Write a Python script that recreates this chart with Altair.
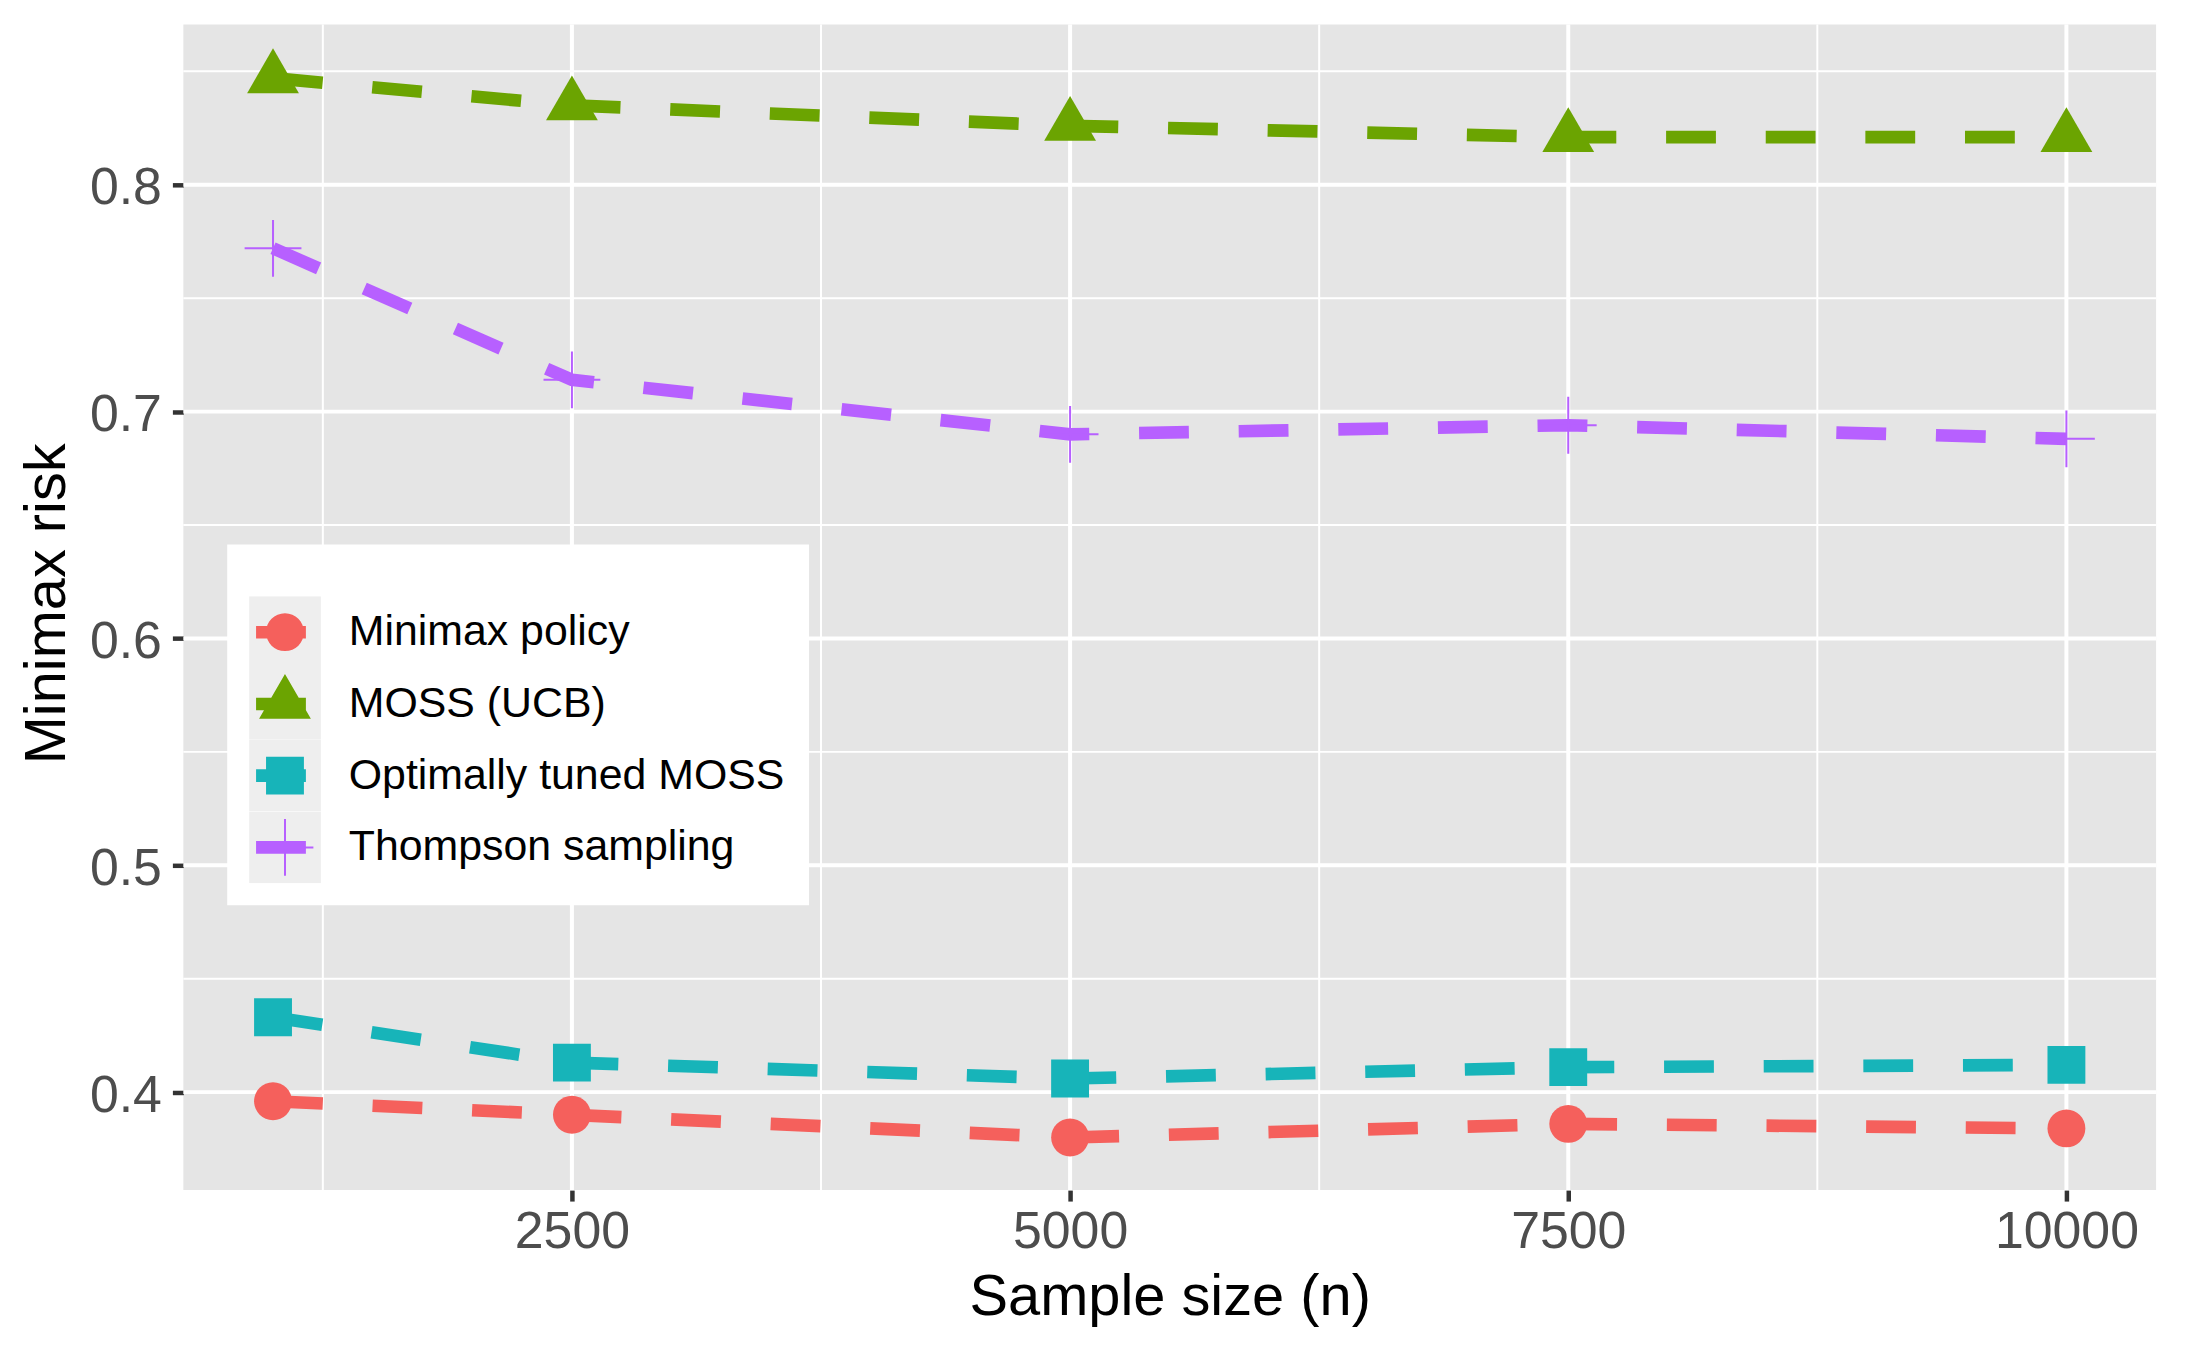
import altair as alt
import pandas as pd

# ---- data ----
n_values = [1000, 2500, 5000, 7500, 10000]
series_names = ["Minimax policy", "MOSS (UCB)", "Optimally tuned MOSS", "Thompson sampling"]
minimax = [0.396, 0.390, 0.380, 0.386, 0.384]
moss = [0.847, 0.835, 0.826, 0.821, 0.821]
opt_moss = [0.433, 0.413, 0.406, 0.411, 0.412]
thompson = [0.772, 0.714, 0.690, 0.694, 0.688]

x_major = [2500, 5000, 7500, 10000]
x_minor = [1250, 3750, 6250, 8750]
y_major = [0.4, 0.5, 0.6, 0.7, 0.8]
y_minor = [0.45, 0.55, 0.65, 0.75, 0.85]

colors = ["#F5605C", "#6BA401", "#17B4B9", "#B760FF"]

# marker outlines (symbol units: 1 unit = 36 px at size 5184)
circle_p = "M-0.528,0A0.528,0.528 0 1,1 0.528,0A0.528,0.528 0 1,1 -0.528,0Z"
triangle_p = "M0,-0.833L0.722,0.417L-0.722,0.417Z"
square_p = "M-0.528,-0.528L0.528,-0.528L0.528,0.528L-0.528,0.528Z"
cross_p = ("M-0.792,-0.028L0.792,-0.028L0.792,0.028L-0.792,0.028Z"
           "M-0.028,-0.792L0.028,-0.792L0.028,0.792L-0.028,0.792Z")
seg_p = "M-0.806,-0.175L0.583,-0.175L0.583,0.175L-0.806,0.175Z"
marker_shapes = [circle_p, triangle_p, square_p, cross_p]
legend_shapes = [seg_p + p for p in marker_shapes]

rows = []
for name, vals in zip(series_names, [minimax, moss, opt_moss, thompson]):
    for n, v in zip(n_values, vals):
        rows.append({"n": n, "risk": v, "series": name})
df = pd.DataFrame(rows)

FONT = "Liberation Sans"
xscale = alt.Scale(domain=[550, 10450], nice=False, zero=False)
yscale = alt.Scale(domain=[0.3568, 0.8707], nice=False, zero=False)

X_AXIS = alt.Axis(values=x_major, format="d", title="Sample size (n)", grid=False, domain=False,
                  tickColor="#333333", tickWidth=4.5, tickSize=11,
                  labelFont=FONT, labelFontSize=52, labelColor="#4D4D4D", labelPadding=6,
                  labelFlush=False, labelOverlap=False,
                  titleFont=FONT, titleFontSize=58, titleColor="black", titleFontWeight="normal",
                  titleBaseline="alphabetic", titleY=125)
Y_AXIS = alt.Axis(values=y_major, format=".1f", title="Minimax risk", grid=False, domain=False,
                  tickColor="#333333", tickWidth=4.5, tickSize=11,
                  labelFont=FONT, labelFontSize=52, labelColor="#4D4D4D", labelPadding=11,
                  labelOffset=3, labelFlush=False, labelOverlap=False,
                  titleFont=FONT, titleFontSize=58, titleColor="black", titleFontWeight="normal",
                  titleAngle=270, titleBaseline="alphabetic", titleX=-119, titleY=581)

COMMON = dict(title=" ", orient="none", legendX=44, legendY=522, padding=22,
              symbolSize=5184, symbolStrokeWidth=0, symbolOpacity=1,
              clipHeight=72, rowPadding=0, labelFont=FONT, labelFontSize=43,
              titleFont=FONT, titleFontSize=20, titlePadding=10)
BG_LEGEND = alt.Legend(fillColor="white", symbolType="square", labelExpr="''",
                       labelOffset=468, **COMMON)
MK_LEGEND = alt.Legend(labelOffset=28, labelColor="black", labelLimit=1000, **COMMON)

X = alt.X("n:Q", scale=xscale, axis=X_AXIS)
Y = alt.Y("risk:Q", scale=yscale, axis=Y_AXIS)

def vgrid(vals, w):
    return alt.Chart(pd.DataFrame({"n": vals})).mark_rule(color="white", strokeWidth=w).encode(x=X)

def hgrid(vals, w):
    return alt.Chart(pd.DataFrame({"risk": vals})).mark_rule(color="white", strokeWidth=w).encode(y=Y)

base = alt.Chart(df)
lines = base.mark_line(strokeWidth=12.7, strokeDash=[50, 50], strokeCap="butt").encode(
    x=X, y=Y,
    color=alt.Color("series:N", scale=alt.Scale(domain=series_names, range=colors), legend=None),
    detail="series:N",
)
points = base.mark_point(filled=True, opacity=1, strokeWidth=0, size=5184).encode(
    x=X, y=Y,
    color=alt.Color("series:N", scale=alt.Scale(domain=series_names, range=colors), legend=None),
    shape=alt.Shape("series:N", scale=alt.Scale(domain=series_names, range=marker_shapes), legend=None),
)
key_bg = base.transform_filter("false").mark_point(filled=True, opacity=1).encode(
    x=X, y=Y,
    fill=alt.Fill("series:N", scale=alt.Scale(domain=series_names, range=["#EEEEEE"] * 4),
                  legend=BG_LEGEND),
)
key_marks = base.transform_filter("false").mark_point(filled=True, opacity=1).encode(
    x=X, y=Y,
    color=alt.Color("series:N", scale=alt.Scale(domain=series_names, range=colors), legend=MK_LEGEND),
    shape=alt.Shape("series:N", scale=alt.Scale(domain=series_names, range=legend_shapes),
                    legend=MK_LEGEND),
)

chart = alt.layer(
    vgrid(x_minor, 2), hgrid(y_minor, 2), vgrid(x_major, 4), hgrid(y_major, 4),
    lines, points, key_bg, key_marks
).resolve_scale(color="independent", shape="independent", fill="independent").properties(
    width=1980, height=1170,
    autosize=alt.AutoSizeParams(type="none"),
    padding={"left": 176, "top": 14, "right": 23, "bottom": 159},
    background="white",
).configure_view(fill="#E5E5E5", strokeWidth=0)

chart.save("out.html", embed_options={"renderer": "svg", "actions": False})
